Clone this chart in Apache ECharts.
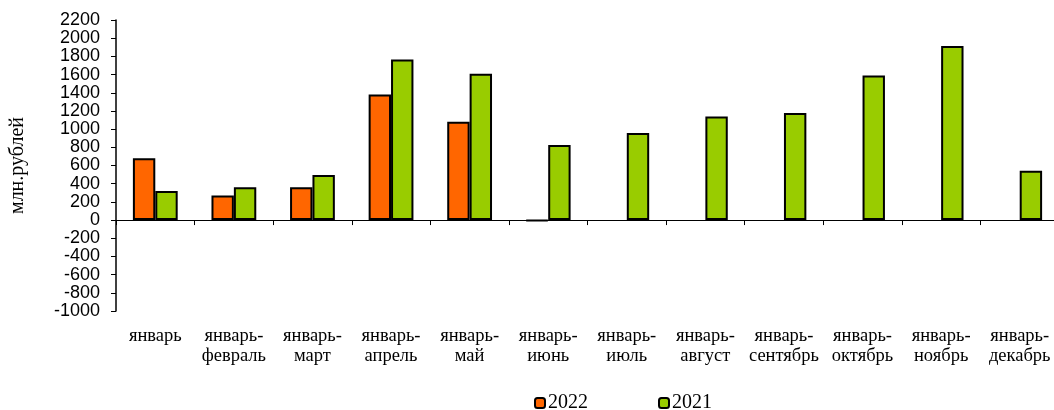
<!DOCTYPE html>
<html>
<head>
<meta charset="utf-8">
<script src="https://cdn.jsdelivr.net/npm/echarts@6/dist/echarts.min.js"></script>
<style>
html,body{margin:0;padding:0;background:#fff;overflow:hidden;width:1054px;height:410px;}
#chart{width:1059px;height:410px;}
</style>
</head>
<body>
<div id="chart"></div>
<script>
var categories = ['январь', 'январь-\nфевраль', 'январь-\nмарт', 'январь-\nапрель', 'январь-\nмай', 'январь-\nиюнь', 'январь-\nиюль', 'январь-\nавгуст', 'январь-\nсентябрь', 'январь-\nоктябрь', 'январь-\nноябрь', 'январь-\nдекабрь'];
var values2022 = [680, 270, 360, 1380, 1080, -8, null, null, null, null, null, null];
var values2021 = [320, 360, 495, 1765, 1610, 825, 958, 1140, 1177, 1591, 1913, 541];
var seriesNames = ['2022', '2021'];
var yMin = -1000, yMax = 2200, yStep = 200;

var chart = echarts.init(document.getElementById('chart'));
chart.setOption({
  animation: false,
  backgroundColor: '#fff',
  grid: {left: 116, right: 0, top: 20, height: 291},
  legend: {
    data: seriesNames,
    left: 529, top: 388,
    itemWidth: 10, itemHeight: 10, itemGap: 70,
    textStyle: {fontFamily: 'Liberation Serif', fontSize: 20, color: '#000', padding: [0,0,0,-2]}
  },
  xAxis: {
    type: 'category',
    data: categories,
    axisLine: {onZero: true, lineStyle: {color: '#000', width: 1}},
    axisTick: {show: true, length: 5, lineStyle: {color: '#000'}},
    axisLabel: {
      interval: 0, margin: 15,
      fontFamily: 'Liberation Serif', fontSize: 18.5, color: '#000', lineHeight: 20,
      formatter: function (v, i) { return categories[i]; }
    },
    position: 'bottom'
  },
  yAxis: {
    type: 'value',
    min: yMin, max: yMax, interval: yStep,
    name: 'млн.рублей',
    nameLocation: 'middle',
    nameGap: 88,
    nameTextStyle: {fontFamily: 'Liberation Serif', fontSize: 20, color: '#000'},
    axisLine: {show: true, lineStyle: {color: '#000', width: 1.5}},
    axisTick: {show: true, length: 5, lineStyle: {color: '#000'}},
    splitLine: {show: false},
    axisLabel: {fontFamily: 'Liberation Sans', fontSize: 18, color: '#000', margin: 16,
      formatter: function (v) { return String(v); }}
  },
  series: [
    {
      name: seriesNames[0], type: 'bar', data: values2022,
      barGap: '0%', barCategoryGap: '43%',
      itemStyle: {color: '#FF6600', borderColor: '#000', borderWidth: 2}
    },
    {
      name: seriesNames[1], type: 'bar', data: values2021,
      barGap: '0%', barCategoryGap: '43%',
      itemStyle: {color: '#99CC00', borderColor: '#000', borderWidth: 2}
    }
  ]
});
</script>
</body>
</html>
